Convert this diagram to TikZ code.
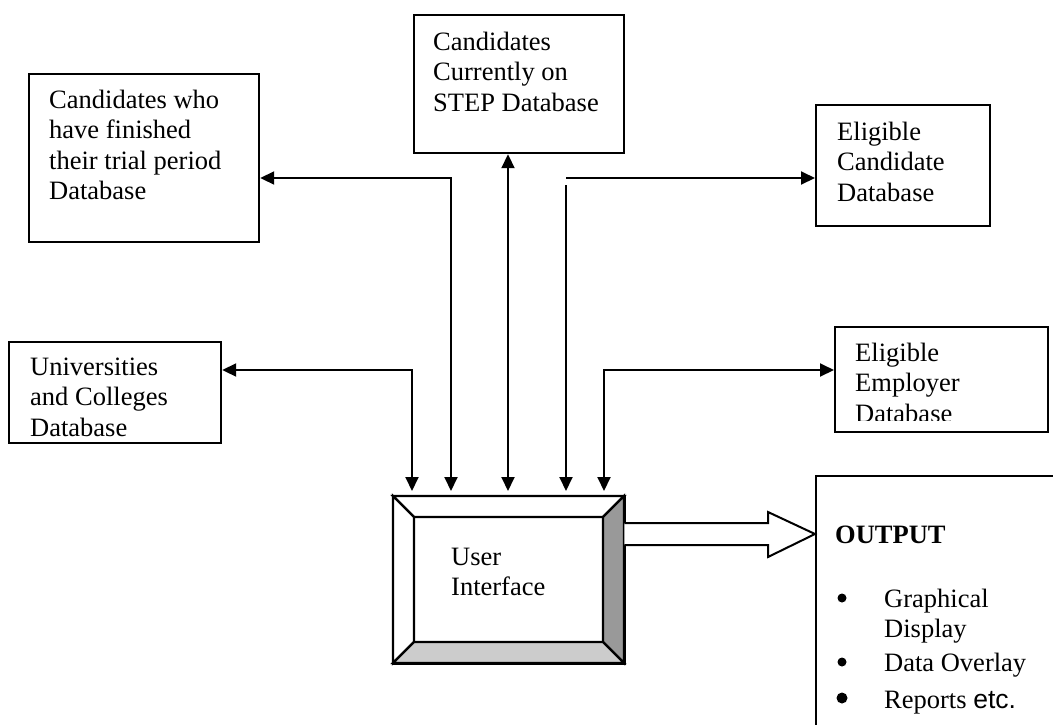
\documentclass[tikz,border=0pt]{standalone}
\usepackage{fontspec}
\setmainfont{Liberation Serif}
\newfontfamily\arialfont{Liberation Sans}
\usetikzlibrary{arrows.meta}
\begin{document}
\begin{tikzpicture}[x=1pt,y=-1pt,
  dbbox/.style={draw, line width=2.2pt, anchor=north west, inner sep=0pt, fill=white},
  txt/.style={anchor=north west, inner sep=0pt, align=left, font=\fontsize{26.5}{30.5}\selectfont},
  ltxt/.style={anchor=base west, inner sep=0pt, font=\fontsize{26.5}{30.5}\selectfont},
  bullet/.style={circle, fill=black, inner sep=0pt, minimum size=#1},
  link/.style={line width=1.9pt, -{Triangle[length=14pt,width=13pt]}},
  link2/.style={line width=1.9pt, {Triangle[length=14pt,width=13pt]}-{Triangle[length=14pt,width=13pt]}},
  bevel/.style={draw, line width=2.2pt, line join=miter}
]
\useasboundingbox (0,0) rectangle (1053,724);
\clip (0,0) rectangle (1053,724);

% database boxes
\node[dbbox, minimum width=230pt, minimum height=168pt] (A) at (28,73) {};
\node[txt] (tA) at (49,86.65) {\strut Candidates who\\have finished\\their trial period\\Database};

\node[dbbox, minimum width=210pt, minimum height=138pt] (B) at (413,14) {};
\node[txt] (tB) at (433,28.65) {\strut Candidates\\Currently on\\STEP Database};

\node[dbbox, minimum width=174pt, minimum height=121pt] (C) at (815,104) {};
\node[txt] (tC) at (837,118.65) {\strut Eligible\\Candidate\\Database};

\node[dbbox, minimum width=212pt, minimum height=101pt] (D) at (8,341) {};
\node[txt] (tD) at (30,353.65) {\strut Universities\\and Colleges\\Database};

\node[dbbox, minimum width=213pt, minimum height=105pt] (E) at (834,326) {};
\begin{scope}
  \clip (834,326) rectangle (1047,420);
  \node[txt] (tE) at (855,339.65) {\strut Eligible\\Employer\\Database};
\end{scope}

% output box (runs off the page)
\node[dbbox, minimum width=300pt, minimum height=300pt] (O) at (815,475) {};
\node[ltxt, font=\fontsize{26.5}{30.5}\selectfont\bfseries] (oT) at (835,543) {OUTPUT};
\node[bullet=9pt] (b1) at (842,598) {};
\node[bullet=9pt] (b2) at (842,662) {};
\node[bullet=11pt] (b3) at (842,698) {};
\node[ltxt] (o1) at (884,607) {Graphical};
\node[ltxt] (o2) at (884,637) {Display};
\node[ltxt] (o3) at (884,671) {Data Overlay};
\node[ltxt] (o4) at (884,708) {Reports {\arialfont etc.}};

% user interface (bevelled frame)
\node[anchor=north west, inner sep=0pt, minimum width=231pt, minimum height=167pt] (UI) at (393,496) {};
\filldraw[bevel, fill=white] (393,496) -- (624,496) -- (603,517) -- (414,517) -- cycle;
\filldraw[bevel, fill=white] (393,496) -- (414,517) -- (414,642) -- (393,663) -- cycle;
\filldraw[bevel, fill=black!40] (624,496) -- (624,663) -- (603,642) -- (603,517) -- cycle;
\filldraw[bevel, fill=black!20] (393,663) -- (624,663) -- (603,642) -- (414,642) -- cycle;
\draw[bevel] (UI.north west) rectangle (UI.south east);
\node[txt] (tUI) at (451,543.65) {\strut User\\Interface};

% hollow output arrow
\filldraw[line width=2pt, fill=white, line join=miter]
  (UI.north east |- 0,523) -- (768,523) -- (768,512) -- (O.north west |- 0,534)
  -- (768,557) -- (768,545) -- (UI.north east |- 0,545);

% connectors
\coordinate (jA) at (451,178);
\coordinate (jB) at (508,300);
\coordinate (jC) at (566,178);
\coordinate (jC2) at (566,185);
\coordinate (jD) at (412,370);
\coordinate (jE) at (604,370);

\draw[link2, shorten >=5pt] (A.east |- jA) -- (jA) -- (jA |- UI.north);
\draw[link2, shorten >=5pt] (jB |- B.south) -- (jB |- UI.north);
\draw[link] (jC) -- (C.west |- jC);
\draw[link, shorten >=5pt] (jC2) -- (jC2 |- UI.north);
\draw[link2, shorten >=5pt] (D.east |- jD) -- (jD) -- (jD |- UI.north);
\draw[link2, shorten >=5pt] (E.west |- jE) -- (jE) -- (jE |- UI.north);
\end{tikzpicture}
\end{document}
